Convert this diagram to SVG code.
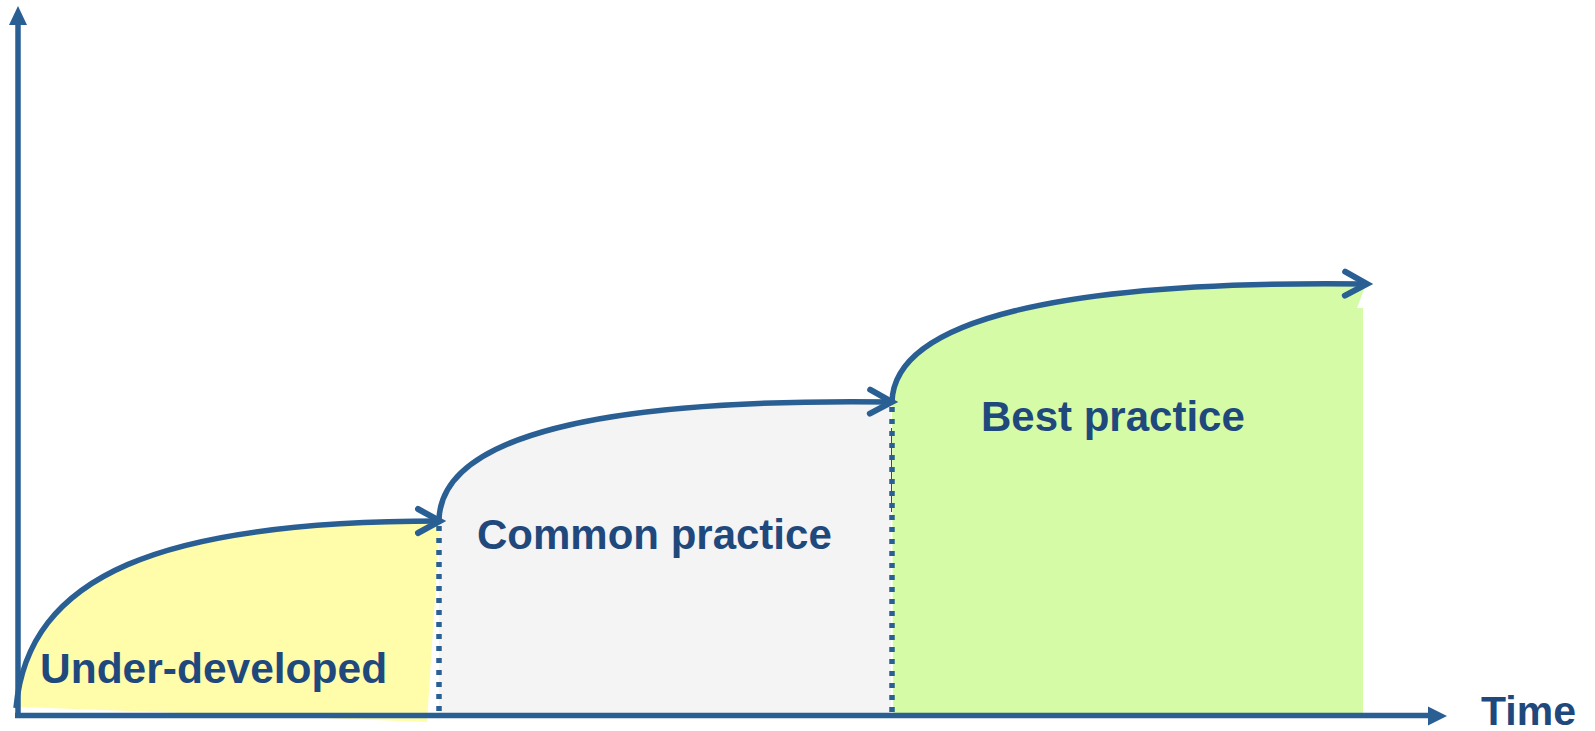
<svg xmlns="http://www.w3.org/2000/svg" width="1595" height="731" viewBox="0 0 1595 731">
<style>
.lbl{font-family:"Liberation Sans",Arial,sans-serif;font-weight:bold;font-size:42px;fill:#1f497d}
.curve{fill:none;stroke:#2a5f94;stroke-width:5.5;marker-end:url(#chev)}
.dots{fill:none;stroke:#2a5f94;stroke-width:5.5;stroke-dasharray:5 7}
.axis{fill:none;stroke:#2a5f94;stroke-width:5.5}
.head{fill:#2a5f94}
</style>
<defs>
<marker id="chev" markerUnits="userSpaceOnUse" markerWidth="40" markerHeight="40" refX="0" refY="0" viewBox="-30 -20 40 40" orient="auto" overflow="visible">
<path d="M-22,-12 L0,0 L-22,12" fill="none" stroke="#2a5f94" stroke-width="6" stroke-linecap="round" stroke-linejoin="miter"/>
</marker>
</defs>
<rect width="1595" height="731" fill="#ffffff"/>
<g id="stage-under-developed">
<path d="M16,708 C28,575 160,521 440,521 L427,722 L22,707 Z" fill="#fffcaa"/>
<text class="lbl" x="40" y="683" style="font-size:42.5px">Under-developed</text>
</g>
<g id="stage-common-practice">
<path d="M439,520 C441,436 600,398 891,402 L891,716 L439,716 Z" fill="#f4f4f4"/>
<line x1="891.5" y1="428" x2="891.5" y2="512" stroke="#1a3cff" stroke-width="1"/>
<text class="lbl" x="477" y="549">Common practice</text>
</g>
<g id="stage-best-practice">
<path d="M892,402 C894,320 1060,280 1366,284 L1357,308 L1363,308 L1363,716 L893,716 Z" fill="#d5fba6"/>
<text class="lbl" x="981" y="431">Best practice</text>
</g>
<g id="axes">
<line class="axis" x1="18" y1="718" x2="18" y2="22"/>
<polygon class="head" points="18,6 27,25 9,25"/>
<line class="axis" x1="15" y1="715.5" x2="1430" y2="715.5"/>
<polygon class="head" points="1447,716 1428,706.5 1428,725.5"/>
<text class="lbl" x="1481" y="725" style="font-size:41px">Time</text>
</g>
<g id="connectors">
<path class="curve" d="M16,708 C28,575 160,521 440,521"/>
<path class="curve" d="M439,520 C441,436 600,398 892,402"/>
<path class="curve" d="M892,402 C894,320 1060,280 1367,284"/>
<line class="dots" x1="439" y1="526" x2="439" y2="713"/>
<line class="dots" x1="892" y1="407" x2="892" y2="713"/>
</g>
</svg>
